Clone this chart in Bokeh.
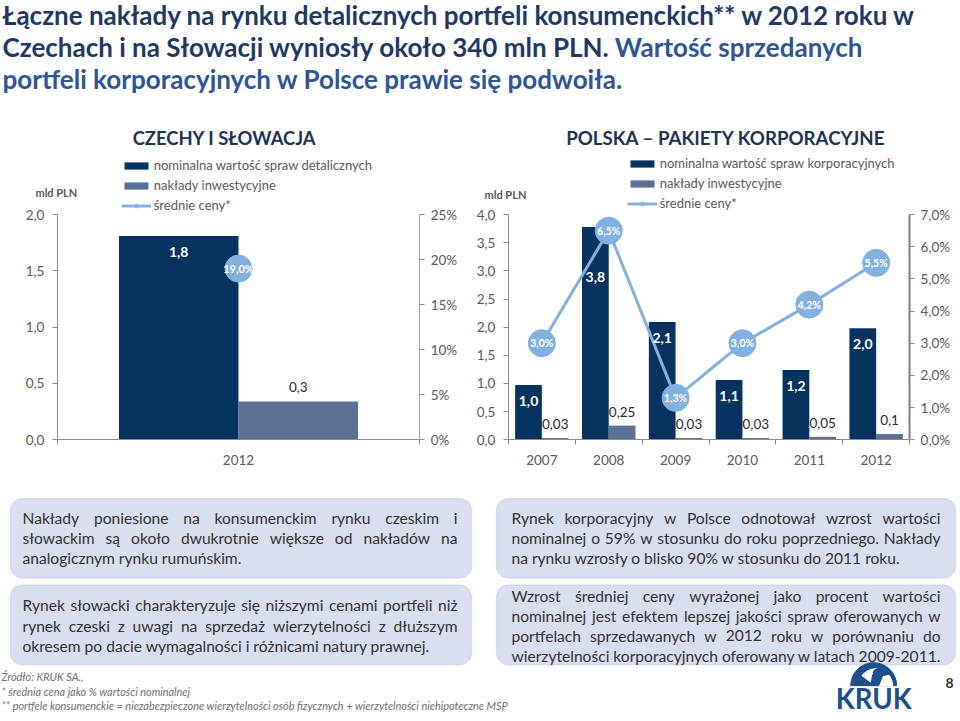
import glob, os
import numpy as np
from bokeh.plotting import figure
from bokeh.models import (Range1d, LinearAxis, FixedTicker, Label, LabelSet, BoxAnnotation,
                          Legend, LegendItem, ColumnDataSource)
from bokeh.layouts import column, row
from bokeh.embed import file_html
from bokeh.resources import INLINE
from bokeh.core.properties import value

try:
    from PIL import ImageFont
except Exception:
    ImageFont = None

# ---------------- data ----------------
cz_years = ["2012"]
cz_nominal = [1.81]
cz_invest = [0.34]
cz_price = [19.0]
cz_y_ticks = [0, 0.5, 1.0, 1.5, 2.0]
cz_y_labels = ["0,0", "0,5", "1,0", "1,5", "2,0"]
cz_pct_ticks = [0, 5, 10, 15, 20, 25]
cz_pct_labels = ["0%", "5%", "10%", "15%", "20%", "25%"]

pl_years = ["2007", "2008", "2009", "2010", "2011", "2012"]
pl_nominal = [0.97, 3.78, 2.09, 1.06, 1.24, 1.98]
pl_invest = [0.03, 0.25, 0.03, 0.03, 0.05, 0.10]
pl_price = [3.0, 6.5, 1.3, 3.0, 4.2, 5.5]
pl_y_ticks = [0, 0.5, 1.0, 1.5, 2.0, 2.5, 3.0, 3.5, 4.0]
pl_y_labels = ["0,0", "0,5", "1,0", "1,5", "2,0", "2,5", "3,0", "3,5", "4,0"]
pl_pct_ticks = [0, 1, 2, 3, 4, 5, 6, 7]
pl_pct_labels = ["0,0%", "1,0%", "2,0%", "3,0%", "4,0%", "5,0%", "6,0%", "7,0%"]

cz_title = "CZECHY I SŁOWACJA"
pl_title = "POLSKA – PAKIETY KORPORACYJNE"
cz_series = ["nominalna wartość spraw detalicznych", "nakłady inwestycyjne", "średnie ceny*"]
pl_series = ["nominalna wartość spraw korporacyjnych", "nakłady inwestycyjne", "średnie ceny*"]
unit_label = "mld PLN"

title_l1 = "Łączne nakłady na rynku detalicznych portfeli konsumenckich** w 2012 roku w"
title_l2a = "Czechach i na Słowacji wyniosły około 340 mln PLN."
title_l2b = "Wartość sprzedanych"
title_l3 = "portfeli korporacyjnych w Polsce prawie się podwoiła."

box_l1 = ["Nakłady poniesione na konsumenckim rynku czeskim i",
          "słowackim są około dwukrotnie większe od nakładów na",
          "analogicznym rynku rumuńskim."]
box_l2 = ["Rynek słowacki charakteryzuje się niższymi cenami portfeli niż",
          "rynek czeski z uwagi na sprzedaż wierzytelności z dłuższym",
          "okresem po dacie wymagalności i różnicami natury prawnej."]
box_r1 = ["Rynek korporacyjny w Polsce odnotował wzrost wartości",
          "nominalnej o 59% w stosunku do roku poprzedniego. Nakłady",
          "na rynku wzrosły o blisko 90% w stosunku do 2011 roku."]
box_r2 = ["Wzrost średniej ceny wyrażonej jako procent wartości",
          "nominalnej jest efektem lepszej jakości spraw oferowanych w",
          "portfelach sprzedawanych w 2012 roku w porównaniu do",
          "wierzytelności korporacyjnych oferowany w latach 2009-2011."]
footer = ["Źródło: KRUK SA.,",
          "* średnia cena jako % wartości nominalnej",
          "** portfele konsumenckie = niezabezpieczone wierzytelności osób fizycznych + wierzytelności niehipoteczne MSP"]

# ---------------- fonts ----------------
def find(name):
    roots = ["/usr/share/fonts", "/usr/local/share/fonts",
             os.path.expanduser("~/.fonts"), os.path.expanduser("~/.local/share/fonts")]
    for r in roots:
        hits = glob.glob(os.path.join(r, "**", name), recursive=True)
        if hits:
            return hits[0]
    return None

CANDS = [("Lato", "Lato-Regular.ttf", "Lato-Bold.ttf", "Lato-Italic.ttf"),
         ("Open Sans", "OpenSans-Regular.ttf", "OpenSans-Bold.ttf", "OpenSans-Italic.ttf"),
         ("Liberation Sans", "LiberationSans-Regular.ttf", "LiberationSans-Bold.ttf", "LiberationSans-Italic.ttf")]
FONT, F_REG, F_BOLD, F_IT = "Lato", None, None, None
for fam, r, b, i in CANDS:
    pr = find(r)
    if pr:
        FONT, F_REG, F_BOLD, F_IT = fam, pr, find(b), find(i)
        break

_cache = {}
def unit_w(text, style="normal"):
    path = {"normal": F_REG, "bold": F_BOLD or F_REG, "italic": F_IT or F_REG}[style]
    fac = 1.05 if (style == "bold" and not F_BOLD) else 1.0
    if ImageFont is not None and path:
        try:
            if path not in _cache:
                _cache[path] = ImageFont.truetype(path, 200)
            return _cache[path].getlength(text) / 200.0 * fac
        except Exception:
            pass
    return len(text) * (0.56 if style == "bold" else 0.5)

# ---------------- geometry (reference pixels -> screen) ----------------
W, H = 958, 718
SX, SY = W / 960.0, H / 721.0
TOP_H, CH_H = 117, 361
BOT_H = H - TOP_H - CH_H
TOP_REF = TOP_H / SY
CH_TOP = TOP_REF
CH_BOT = (TOP_H + CH_H) / SY
BOT_TOP = CH_BOT

NAVY = "#1F3864"
BLUE2 = "#2F5597"
DARK_BAR = "#08335F"
LIGHT_BAR = "#5C7194"
PRICE = "#84B0E0"
AX = "#8C8C8C"
TICK_TXT = "#595959"


def blank(w, h, yref):
    p = figure(width=w, height=h, x_range=Range1d(0, 960), y_range=Range1d(0, yref),
               output_backend="svg", toolbar_location=None, min_border=0,
               x_axis_type=None, y_axis_type=None)
    p.grid.visible = False
    p.outline_line_color = None
    return p

# ---------------- top title ----------------
top = blank(W, TOP_H, TOP_REF)
ty = lambda r: TOP_REF - r
ts = min(26.0, 913 * SX / unit_w(title_l1, "bold"))
part2_x = 2 + unit_w(title_l2a + " ", "bold") * ts / SX
top.text(x=[2, 2], y=[ty(15), ty(47)], text=[title_l1, title_l2a], text_font=value(FONT),
         text_font_style="bold", text_font_size=f"{ts:.1f}px", text_color=NAVY, text_baseline="middle")
top.text(x=[part2_x, 2], y=[ty(47), ty(79)], text=[title_l2b, title_l3], text_font=value(FONT),
         text_font_style="bold", text_font_size=f"{ts:.1f}px", text_color=BLUE2, text_baseline="middle")


# ---------------- charts ----------------
def style_axis(ax, color=AX, width=1):
    ax.axis_line_color = color
    ax.axis_line_width = width
    ax.major_tick_line_color = color
    ax.major_tick_line_width = width
    ax.major_tick_out = 5
    ax.major_tick_in = 0
    ax.minor_tick_line_color = None
    ax.major_label_text_font = FONT
    ax.major_label_text_font_size = "13.5px"
    ax.major_label_text_color = TICK_TXT


def build_chart(fig_w, fig_left_ref, frame_left_ref, frame_right_ref, zero_ref, ytop_ref,
                cats, nominal, invest, price, y_ticks, y_labels, pct_ticks, pct_labels,
                group_frac, nom_fmt, inv_fmt, title, title_w_ref, series, title_center_ref,
                legend_ref, unit_ref, right_axis_color, right_axis_w, price_label_size):
    n = len(cats)
    per = (zero_ref - ytop_ref) / y_ticks[-1]          # ref px per unit
    pper = (zero_ref - ytop_ref) / pct_ticks[-1]        # ref px per percent
    xper = (frame_right_ref - frame_left_ref) / n       # ref px per category
    lx = lambda r: (r - frame_left_ref) / xper
    ly = lambda r: (zero_ref - r) / per
    lp = lambda r: (zero_ref - r) / pper
    fig_right_ref = fig_left_ref + fig_w / SX

    p = figure(width=fig_w, height=CH_H,
               x_range=Range1d(lx(fig_left_ref), lx(fig_right_ref)),
               y_range=Range1d(ly(CH_BOT), ly(CH_TOP)),
               output_backend="svg", toolbar_location=None, x_axis_type=None, y_axis_type=None,
               min_border=0, min_border_left=0, min_border_right=0, min_border_top=0,
               min_border_bottom=0)
    p.extra_y_ranges = {"pct": Range1d(lp(CH_BOT), lp(CH_TOP))}
    p.grid.visible = False
    p.outline_line_color = None

    centers = np.arange(n) + 0.5
    bw = group_frac / 2.0
    xd = centers - bw / 2.0
    xl = centers + bw / 2.0

    nom_txt = [nom_fmt(v) for v in nominal]
    inv_txt = [inv_fmt(v) for v in invest]
    pr_txt = [f"{v:.1f}%".replace(".", ",") for v in price]

    # nominal labels sit inside the bar; pushed below the price marker when they collide
    nom_lab_y = []
    for i in range(n):
        lab_ref = zero_ref - nominal[i] * per + 16
        mk_ref = zero_ref - price[i] * pper
        if abs(lab_ref - mk_ref) < 28 and abs(xd[i] - centers[i]) * xper < 25:
            lab_ref = mk_ref + 47
        nom_lab_y.append((zero_ref - lab_ref) / per)

    src = ColumnDataSource(dict(xc=centers, xd=xd, xl=xl, nom=nominal, inv=invest, price=price,
                                nom_txt=nom_txt, inv_txt=inv_txt, pr_txt=pr_txt, nom_lab_y=nom_lab_y))

    r_nom = p.vbar(x="xd", top="nom", width=bw, source=src, fill_color=DARK_BAR, line_color=None)
    r_inv = p.vbar(x="xl", top="inv", width=bw, source=src, fill_color=LIGHT_BAR, line_color=None)
    r_line = p.line(x="xc", y="price", source=src, y_range_name="pct", line_color=PRICE, line_width=3)
    r_pts = p.scatter(x="xc", y="price", source=src, y_range_name="pct", size=27,
                      fill_color=PRICE, line_color=PRICE)

    p.add_layout(LabelSet(x="xd", y="nom_lab_y", text="nom_txt", source=src, text_align="center",
                          text_baseline="middle", text_color="white", text_font=value(FONT),
                          text_font_style="bold", text_font_size="14px"))
    p.add_layout(LabelSet(x="xl", y="inv", text="inv_txt", source=src, y_offset=14 * SY,
                          text_align="center", text_baseline="middle", text_color="#262626",
                          text_font=value(FONT), text_font_size="13.5px"))
    p.add_layout(LabelSet(x="xc", y="price", text="pr_txt", source=src, y_range_name="pct",
                          text_align="center", text_baseline="middle", text_color="white",
                          text_font=value(FONT), text_font_style="bold",
                          text_font_size=f"{price_label_size}px"))

    # axes, pinned at the frame positions of the reference
    ya = LinearAxis(ticker=FixedTicker(ticks=y_ticks), bounds=(0, y_ticks[-1]),
                    major_label_overrides=dict(zip(y_ticks, y_labels)), fixed_location=0)
    style_axis(ya)
    ya.major_label_standoff = 8
    p.add_layout(ya, "left")
    pa = LinearAxis(y_range_name="pct", ticker=FixedTicker(ticks=pct_ticks), bounds=(0, pct_ticks[-1]),
                    major_label_overrides=dict(zip(pct_ticks, pct_labels)), fixed_location=n)
    style_axis(pa, right_axis_color, right_axis_w)
    pa.major_tick_line_color = AX
    pa.major_tick_line_width = 1
    pa.major_label_standoff = 6
    p.add_layout(pa, "right")
    xa = LinearAxis(ticker=FixedTicker(ticks=list(centers), minor_ticks=list(np.arange(n + 1))),
                    major_label_overrides=dict(zip(list(centers), cats)), bounds=(0, n),
                    fixed_location=0)
    style_axis(xa)
    xa.major_tick_line_color = None
    xa.minor_tick_line_color = AX
    xa.minor_tick_out = 5
    xa.minor_tick_in = 0
    xa.major_label_standoff = 10
    p.add_layout(xa, "below")

    # chart title
    tsz = min(20.0, title_w_ref * SX / unit_w(title, "bold"))
    p.add_layout(Label(x=lx(title_center_ref[0]), y=ly(title_center_ref[1]), text=title,
                       text_align="center", text_baseline="middle", text_font=FONT,
                       text_font_style="bold", text_font_size=f"{tsz:.1f}px", text_color="#1F3350"))
    # unit label
    p.add_layout(Label(x=lx(unit_ref[0]), y=ly(unit_ref[1]), text=unit_label,
                       text_align="left", text_baseline="middle", text_font=FONT,
                       text_font_style="bold", text_font_size="11px", text_color=TICK_TXT))

    # legend
    items = [LegendItem(label=series[0], renderers=[r_nom]),
             LegendItem(label=series[1], renderers=[r_inv]),
             LegendItem(label=series[2], renderers=[r_line, r_pts])]
    lg = Legend(items=items, location=((legend_ref[0] - fig_left_ref) * SX - 3,
                                       (CH_BOT - legend_ref[1]) * SY),
                orientation="vertical", border_line_color=None, background_fill_alpha=0,
                padding=0, margin=0, spacing=4, glyph_width=30, glyph_height=9, label_height=16,
                label_standoff=3, label_text_font=FONT, label_text_font_size="13px",
                label_text_color=TICK_TXT)
    p.add_layout(lg)
    return p


def f1(v):
    return f"{v:.1f}".replace(".", ",")


def f2(v):
    s = f"{v:.2f}".rstrip("0")
    return s.replace(".", ",")


LEFT_W = round(470 * SX)
RIGHT_W = W - LEFT_W

left = build_chart(LEFT_W, 0, 57, 420, 441, 215, cz_years, cz_nominal, cz_invest, cz_price,
                   cz_y_ticks, cz_y_labels, cz_pct_ticks, cz_pct_labels, 0.66, f1, f1,
                   cz_title, 183, cz_series, (224.5, 138), (124, 214), (35, 193), "#A6A6A6", 1, 11)
right = build_chart(RIGHT_W, LEFT_W / SX, 509, 911, 441, 215, pl_years, pl_nominal, pl_invest, pl_price,
                    pl_y_ticks, pl_y_labels, pl_pct_ticks, pl_pct_labels, 0.8, f1, f2,
                    pl_title, 319, pl_series, (727, 138), (631, 212), (485, 195), "#7F7F7F", 2, 10.5)

# ---------------- bottom: text boxes, footer, logo ----------------
bot = blank(W, BOT_H, 721 - BOT_TOP)
by = lambda r: 721 - r

for (l, r, t, b) in [(10, 472, 500, 580), (10, 472, 587, 667), (497, 957, 500, 580), (497, 957, 587, 667)]:
    bot.add_layout(BoxAnnotation(left=l, right=r, top=by(t), bottom=by(b), fill_color="#DADFF0",
                                 fill_alpha=1, line_color="#A9B3D6", line_width=1.5,
                                 border_radius=12, level="underlay"))

avail_l, avail_r = 458 - 22, 942 - 512
bsize = 409 * SX / unit_w(box_l2[-1])
for lines, av in [(box_l1, avail_l), (box_l2, avail_l), (box_r1, avail_r), (box_r2, avail_r)]:
    for ln in lines[:-1]:
        bsize = min(bsize, av * SX / unit_w(ln) * 0.995)
    bsize = min(bsize, av * SX / unit_w(lines[-1]))


def justify(lines, L, R, ys):
    xs, yy, tt = [], [], []
    for i, (ln, y) in enumerate(zip(lines, ys)):
        if i == len(lines) - 1:
            xs.append(L); yy.append(by(y)); tt.append(ln)
            continue
        words = ln.split(" ")
        wds = [unit_w(w) * bsize / SX for w in words]
        gap = (R - L - sum(wds)) / max(1, len(words) - 1)
        x = L
        for w, wd in zip(words, wds):
            xs.append(x); yy.append(by(y)); tt.append(w)
            x += wd + gap
    return xs, yy, tt


X, Y, T = [], [], []
for lines, L, R, ys in [(box_l1, 22, 458, [520, 540, 560]), (box_l2, 22, 458, [607, 628, 648]),
                        (box_r1, 512, 942, [520, 540, 560]), (box_r2, 512, 942, [598, 618, 638, 658])]:
    a, b_, c = justify(lines, L, R, ys)
    X += a; Y += b_; T += c
bot.text(x=X, y=Y, text=T, text_font=value(FONT), text_font_size=f"{bsize:.2f}px",
         text_color="#333333", text_baseline="middle")

fsize = min(11.5, 508 * SX / unit_w(footer[2], "italic"))
bot.text(x=[1, 1, 1], y=[by(679), by(694), by(708)], text=footer, text_font=value(FONT),
         text_font_style="italic", text_font_size=f"{fsize:.2f}px", text_color="#6E6E6E",
         text_baseline="middle")

bot.text(x=[951], y=[by(685)], text=["8"], text_font=value(FONT), text_font_style="bold",
         text_font_size="14px", text_color="#333333", text_align="center", text_baseline="middle")

# KRUK logo
LOGO = "#1D4F8C"
ksz = 76 * SX / unit_w("KRUK", "bold")
bot.text(x=[875], y=[by(701)], text=["KRUK"], text_font=value(FONT), text_font_style="bold",
         text_font_size=f"{ksz:.1f}px", text_color=LOGO, text_align="center", text_baseline="middle")
bot.wedge(x=[875], y=[by(688)], radius=23, start_angle=0, end_angle=np.pi, color=LOGO)
bot.wedge(x=[877], y=[by(688)], radius=17, start_angle=0, end_angle=np.pi * 0.8, color="white")
bot.ellipse(x=[880], y=[by(675)], width=11, height=8, color=LOGO)
bot.patch(x=[885, 893, 884], y=[by(673), by(676), by(678)], color=LOGO)
bot.patch(x=[874, 884, 880, 872], y=[by(677), by(678), by(688), by(688)], color=LOGO)

layout = column(top, row(left, right), bot)
open("out.html", "w").write(file_html(layout, INLINE))
